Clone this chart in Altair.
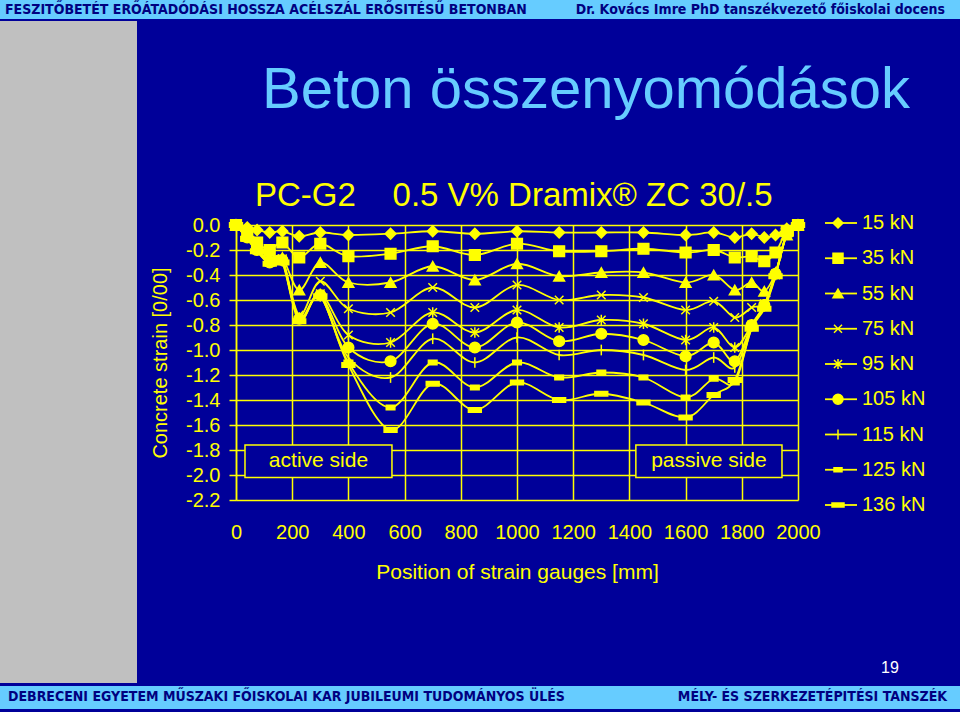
import altair as alt
import pandas as pd

# ---------------- data ----------------
gauge_pos = [0, 40, 75, 120, 165, 225, 300, 400, 550, 700, 850, 1000, 1150,
             1300, 1450, 1600, 1700, 1775, 1835, 1880, 1920, 1960, 2000]
series_names = ["15 kN", "35 kN", "55 kN", "75 kN", "95 kN",
                "105 kN", "115 kN", "125 kN", "136 kN"]
s15 = [0, -0.02, -0.04, -0.06, -0.05, -0.09, -0.06, -0.08, -0.07, -0.05, -0.07, -0.05,
       -0.06, -0.06, -0.06, -0.08, -0.06, -0.10, -0.07, -0.10, -0.08, -0.03, 0]
s35 = [0, -0.07, -0.14, -0.20, -0.14, -0.26, -0.15, -0.25, -0.23, -0.17, -0.24, -0.15,
       -0.21, -0.21, -0.19, -0.22, -0.20, -0.26, -0.25, -0.29, -0.22, -0.05, 0]
s55 = [0, -0.09, -0.17, -0.26, -0.26, -0.52, -0.30, -0.46, -0.46, -0.33, -0.44, -0.31,
       -0.41, -0.38, -0.38, -0.46, -0.40, -0.52, -0.46, -0.53, -0.38, -0.08, 0]
s75 = [0, -0.10, -0.19, -0.28, -0.27, -0.72, -0.45, -0.67, -0.70, -0.50, -0.66, -0.48,
       -0.60, -0.56, -0.58, -0.68, -0.61, -0.74, -0.66, -0.63, -0.40, -0.08, 0]
s95 = [0, -0.10, -0.20, -0.29, -0.28, -0.74, -0.55, -0.88, -0.94, -0.70, -0.86, -0.68,
       -0.82, -0.76, -0.79, -0.92, -0.82, -0.98, -0.80, -0.64, -0.39, -0.07, 0]
s105 = [0, -0.10, -0.20, -0.30, -0.28, -0.75, -0.56, -0.98, -1.09, -0.79, -0.98, -0.78,
        -0.93, -0.87, -0.92, -1.05, -0.94, -1.09, -0.80, -0.64, -0.39, -0.07, 0]
s115 = [0, -0.10, -0.20, -0.30, -0.29, -0.75, -0.57, -1.06, -1.22, -0.91, -1.10, -0.90,
        -1.04, -1.00, -1.04, -1.16, -1.06, -1.14, -0.81, -0.65, -0.40, -0.07, 0]
s125 = [0, -0.11, -0.21, -0.31, -0.29, -0.76, -0.57, -1.10, -1.46, -1.10, -1.30, -1.10,
        -1.22, -1.18, -1.22, -1.38, -1.23, -1.26, -0.82, -0.66, -0.40, -0.07, 0]
s136 = [0, -0.11, -0.21, -0.31, -0.30, -0.77, -0.57, -1.12, -1.64, -1.27, -1.48, -1.26,
        -1.40, -1.35, -1.42, -1.54, -1.36, -1.24, -0.83, -0.67, -0.41, -0.07, 0]
strain_series = [s15, s35, s55, s75, s95, s105, s115, s125, s136]

x_ticks = [0, 200, 400, 600, 800, 1000, 1200, 1400, 1600, 1800, 2000]
y_ticks = [0.0, -0.2, -0.4, -0.6, -0.8, -1.0, -1.2, -1.4, -1.6, -1.8, -2.0, -2.2]

box_labels = ["active side", "passive side"]
box_from = [32, 1423]
box_to = [555, 1943]
box_top = [-1.76, -1.76]
box_bottom = [-2.02, -2.02]

# ---------------- styles ----------------
YEL = "#FFFF00"
BG = "#000099"
LB = "#66CCFF"
GREY = "#C0C0C0"
NAVY = "#000080"
FONT = "Liberation Sans"
NARROW = "Liberation Sans Narrow, DejaVu Sans Condensed, Liberation Sans"

shapes = [
    "diamond", "square", "triangle-up",
    "M-0.8,-0.8L0.8,0.8M-0.8,0.8L0.8,-0.8",
    "M-0.8,-0.8L0.8,0.8M-0.8,0.8L0.8,-0.8M0,-1L0,1",
    "circle",
    "M0,-1L0,1",
    "M-0.8,-0.4L0.8,-0.4L0.8,0.4L-0.8,0.4Z",
    "M-1.2,-0.4L1.2,-0.4L1.2,0.4L-1.2,0.4Z",
]

rows = []
for name, vals in zip(series_names, strain_series):
    for p, v in zip(gauge_pos, vals):
        rows.append({"pos": p, "strain": v, "series": name})
df = pd.DataFrame(rows)

boxes = pd.DataFrame({"label": box_labels, "x1": box_from, "x2": box_to,
                      "y1": box_top, "y2": box_bottom})
boxes["xc"] = (boxes["x1"] + boxes["x2"]) / 2
boxes["yc"] = (boxes["y1"] + boxes["y2"]) / 2

legend_df = pd.DataFrame({"series": series_names})
one = pd.DataFrame({"k": [0]})

xs = alt.Scale(domain=[0, 2000], nice=False, zero=False)
ys = alt.Scale(domain=[-2.2, 0], nice=False, zero=False)
x_axis = alt.Axis(values=x_ticks, format="d", grid=True, ticks=False, domain=False,
                  gridColor=YEL, gridWidth=1.5, gridOpacity=1,
                  labelColor=YEL, labelFontSize=20, labelFont=FONT, labelPadding=22,
                  labelFlush=False,
                  title="Position of strain gauges [mm]", titleColor=YEL,
                  titleFontSize=21, titleFont=FONT, titleFontWeight="normal",
                  titlePadding=19)
y_axis = alt.Axis(values=y_ticks, grid=True, ticks=True, tickSize=7, tickColor=YEL,
                  tickWidth=1.5, domain=True, domainColor=YEL, domainWidth=1.5,
                  gridColor=YEL, gridWidth=1.5, gridOpacity=1,
                  labelExpr="replace(format(datum.value, '.1f'), '\u2212', '-')",
                  labelColor=YEL, labelFontSize=20, labelFont=FONT, labelPadding=9,
                  labelFlush=False,
                  title="Concrete strain [0/00]", titleColor=YEL, titleFontSize=20,
                  titleFont=FONT, titleFontWeight="normal", titlePadding=15)

shape_scale = alt.Scale(domain=series_names, range=shapes)

lines = alt.Chart(df).mark_line(interpolate="cardinal", color=YEL, strokeWidth=1.8).encode(
    x=alt.X("pos:Q", scale=xs, axis=x_axis),
    y=alt.Y("strain:Q", scale=ys, axis=y_axis),
    detail="series:N",
)
points = alt.Chart(df).mark_point(filled=True, color=YEL, fill=YEL, stroke=YEL,
                                  strokeWidth=1.5, size=115, opacity=1).encode(
    x=alt.X("pos:Q", scale=xs, axis=x_axis),
    y=alt.Y("strain:Q", scale=ys, axis=y_axis),
    shape=alt.Shape("series:N", scale=shape_scale, legend=None),
)
box_rects = alt.Chart(boxes).mark_rect(fill=BG, stroke=YEL, strokeWidth=1.5).encode(
    x=alt.X("x1:Q", scale=xs, axis=x_axis), x2="x2:Q",
    y=alt.Y("y1:Q", scale=ys, axis=y_axis), y2="y2:Q",
)
box_text = alt.Chart(boxes).mark_text(color=YEL, fontSize=21, font=FONT).encode(
    x=alt.X("xc:Q", scale=xs, axis=x_axis),
    y=alt.Y("yc:Q", scale=ys, axis=y_axis),
    text="label:N",
)
main = alt.layer(box_rects, box_text, lines, points)

leg_y = alt.Y("series:N", sort=series_names,
              scale=alt.Scale(type="point", range=[-2, 280], padding=0), axis=None)
leg_rule = alt.Chart(legend_df).mark_rule(color=YEL, strokeWidth=1.8).encode(
    x=alt.value(589), x2=alt.value(621), y=leg_y)
leg_pt = alt.Chart(legend_df).mark_point(filled=True, color=YEL, fill=YEL, stroke=YEL,
                                         strokeWidth=1.5, size=100, opacity=1).encode(
    x=alt.value(602), y=leg_y,
    shape=alt.Shape("series:N", scale=shape_scale, legend=None))
leg_txt = alt.Chart(legend_df).mark_text(color=YEL, fontSize=20, font=FONT, align="left").encode(
    x=alt.value(626), y=leg_y, text="series:N")
legend = alt.layer(leg_rule, leg_pt, leg_txt)


def rect(x, x2, y, y2, color):
    return alt.Chart(one).mark_rect(color=color).encode(
        x=alt.value(x), x2=alt.value(x2), y=alt.value(y), y2=alt.value(y2))


def label(text, x, y, size, color, align="center", weight="normal",
          baseline="middle", font=FONT):
    return alt.Chart(one).mark_text(text=text, align=align, baseline=baseline,
                                    fontSize=size, color=color, fontWeight=weight,
                                    font=font).encode(x=alt.value(x), y=alt.value(y))


deco = alt.layer(
    rect(-236, 724, -225, -206, LB),
    rect(-236, -99, -204, 458, GREY),
    rect(-236, 724, 461, 484, LB),
    label("FESZITŐBETÉT ERŐÁTADÓDÁSI HOSSZA ACÉLSZÁL ERŐSITÉSŰ BETONBAN",
          -231, -215, 14, NAVY, align="left", weight="bold", font=NARROW),
    label("Dr. Kovács Imre PhD tanszékvezető főiskolai docens",
          709, -215, 14, NAVY, align="right", weight="bold", font=NARROW),
    label("DEBRECENI EGYETEM MŰSZAKI FŐISKOLAI KAR JUBILEUMI TUDOMÁNYOS ÜLÉS",
          -228, 472, 14, NAVY, align="left", weight="bold", font=NARROW),
    label("MÉLY- ÉS SZERKEZETÉPITÉSI TANSZÉK",
          711, 472, 14, NAVY, align="right", weight="bold", font=NARROW),
    label("19", 654, 443, 16, "#FFFFFF"),
    label("Beton összenyomódások", 350, -117, 58, LB, baseline="alphabetic"),
    label("PC-G2\u00a0\u00a0\u00a0\u00a00.5 V% Dramix\u00ae ZC 30/.5", 19, -29, 33, YEL,
          align="left"),
)

chart = alt.layer(deco, main, legend).resolve_scale(y="independent").properties(
    width=562, height=275,
    padding={"left": 236, "top": 225, "right": 162, "bottom": 212},
    autosize=alt.AutoSizeParams(type="none"),
).configure(background=BG).configure_view(stroke=None)

chart.save("out.html", embed_options={"renderer": "svg", "actions": False})
